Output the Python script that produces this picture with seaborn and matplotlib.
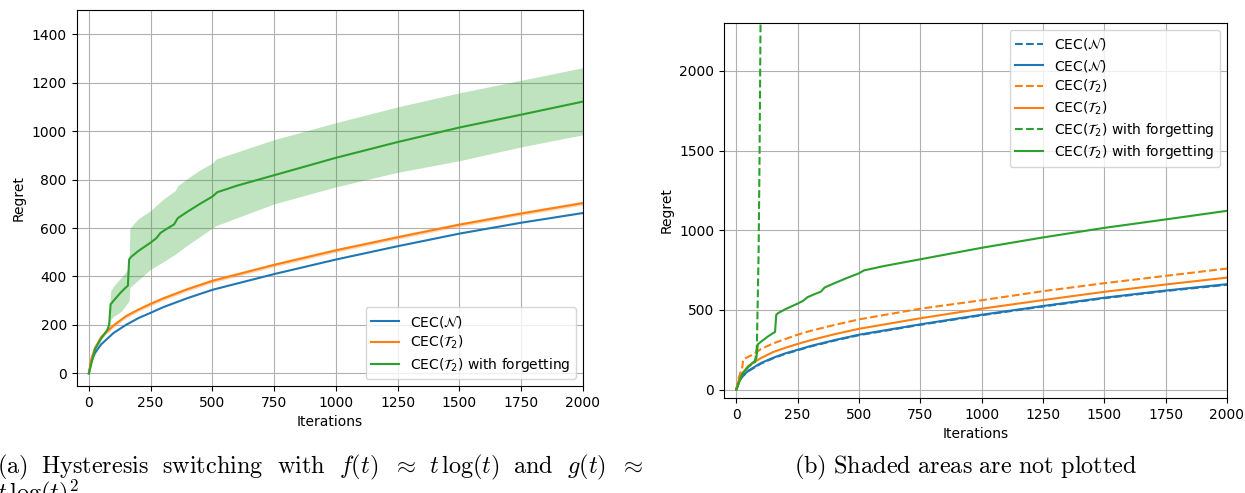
import numpy as np
import matplotlib
matplotlib.use("Agg")
import matplotlib.pyplot as plt
import seaborn as sns

# ---------------- data ----------------
t_base = [0, 10, 25, 50, 100, 150, 200, 250, 300, 400, 500, 750, 1000, 1250, 1500, 1750, 2000]
blue_N = [0, 50, 85, 120, 167, 200, 228, 250, 273, 311, 345, 410, 470, 525, 577, 622, 662]
blue_N_dash = [0, 48, 82, 117, 163, 197, 225, 247, 270, 308, 342, 407, 467, 522, 574, 619, 658]
orange_T2 = [0, 60, 105, 150, 198, 236, 263, 287, 309, 348, 382, 448, 508, 562, 614, 660, 703]
orange_lo = [0, 55, 99, 143, 190, 228, 255, 279, 301, 340, 374, 440, 500, 554, 606, 652, 695]
orange_hi = [0, 65, 111, 157, 206, 244, 271, 295, 317, 356, 390, 456, 516, 570, 622, 668, 711]

t_orange_dash = [0, 10, 20, 25, 28, 40, 60, 80, 100, 150, 200, 250, 300, 400, 500, 750, 1000, 1250, 1500, 1750, 2000]
orange_T2_dash = [0, 75, 120, 146, 188, 200, 215, 232, 255, 290, 318, 345, 368, 406, 441, 508, 561, 618, 668, 714, 760]

t_green = [0, 25, 50, 75, 82, 88, 100, 130, 150, 158, 163, 170, 200, 250, 273, 290, 320, 345, 360,
           400, 450, 500, 520, 600, 750, 1000, 1250, 1500, 1750, 2000]
green_forget = [0, 100, 145, 180, 200, 285, 300, 335, 355, 362, 470, 480, 505, 540, 558, 580, 600, 615, 641,
                668, 700, 730, 748, 775, 818, 890, 955, 1015, 1068, 1122]

t_green_band = [0, 50, 75, 82, 88, 100, 130, 155, 163, 166, 200, 250, 300, 350, 360, 400, 450, 500, 515,
                750, 1000, 1250, 1500, 1750, 2000]
green_hi = [0, 150, 185, 230, 340, 360, 395, 425, 440, 600, 638, 672, 718, 755, 775, 805, 840, 868, 885,
            965, 1035, 1100, 1158, 1210, 1262]
green_lo = [0, 140, 175, 185, 222, 235, 255, 288, 300, 355, 385, 430, 460, 492, 500, 530, 565, 600, 610,
            700, 770, 830, 878, 935, 985]

t_green_dash = [0, 25, 50, 77, 84, 91, 95, 99, 103]
green_forget_dash = [0, 100, 145, 175, 272, 858, 1485, 2322, 3000]

x_ticks = [0, 250, 500, 750, 1000, 1250, 1500, 1750, 2000]
lab_N = r"CEC($\mathcal{N}$)"
lab_T2 = r"CEC($\mathcal{T}_2$)"
lab_TF = r"CEC($\mathcal{T}_2$) with forgetting"

# ---------------- style ----------------
plt.rcParams["font.family"] = ["DejaVu Sans"]
plt.rcParams["mathtext.fontset"] = "dejavusans"
pal = sns.color_palette("tab10")
c_blue, c_orange, c_green = pal[0], pal[1], pal[2]

W, H = 1245, 493
fig = plt.figure(figsize=(W / 100, H / 100), dpi=100)

def box(l, r, t, b):
    return [l / W, 1 - b / H, (r - l) / W, (b - t) / H]

ax1 = fig.add_axes(box(76.5, 583, 10, 386))
ax2 = fig.add_axes(box(724, 1227, 23, 398))

for ax in (ax1, ax2):
    ax.grid(True, color="#b0b0b0", linewidth=0.8)
    ax.set_axisbelow(True)

# ---- left panel ----
ax1.fill_between(t_green_band, green_lo, green_hi, color=c_green, alpha=0.3, linewidth=0)
ax1.fill_between(t_base, orange_lo, orange_hi, color=c_orange, alpha=0.3, linewidth=0)
sns.lineplot(x=t_base, y=blue_N, ax=ax1, color=c_blue, label=lab_N, estimator=None, linewidth=1.5)
sns.lineplot(x=t_base, y=orange_T2, ax=ax1, color=c_orange, label=lab_T2, estimator=None, linewidth=1.5)
sns.lineplot(x=t_green, y=green_forget, ax=ax1, color=c_green, label=lab_TF, estimator=None, linewidth=1.5)
ax1.set_xlim(-50, 2000)
ax1.set_ylim(-52, 1500)
ax1.set_xticks(x_ticks)
ax1.set_yticks([0, 200, 400, 600, 800, 1000, 1200, 1400])
ax1.set_xlabel("Iterations")
ax1.set_ylabel("Regret")
ax1.legend(loc="lower right", fontsize=10, labelspacing=0.3)

# ---- right panel ----
sns.lineplot(x=t_base, y=blue_N_dash, ax=ax2, color=c_blue, label=lab_N, estimator=None, linewidth=1.5, linestyle="--")
sns.lineplot(x=t_base, y=blue_N, ax=ax2, color=c_blue, label=lab_N, estimator=None, linewidth=1.5)
sns.lineplot(x=t_orange_dash, y=orange_T2_dash, ax=ax2, color=c_orange, label=lab_T2, estimator=None, linewidth=1.5, linestyle="--")
sns.lineplot(x=t_base, y=orange_T2, ax=ax2, color=c_orange, label=lab_T2, estimator=None, linewidth=1.5)
sns.lineplot(x=t_green_dash, y=green_forget_dash, ax=ax2, color=c_green, label=lab_TF, estimator=None, linewidth=1.5, linestyle="--")
sns.lineplot(x=t_green, y=green_forget, ax=ax2, color=c_green, label=lab_TF, estimator=None, linewidth=1.5)
ax2.set_xlim(-50, 2000)
ax2.set_ylim(-52, 2300)
ax2.set_xticks(x_ticks)
ax2.set_yticks([0, 500, 1000, 1500, 2000])
ax2.set_xlabel("Iterations")
ax2.set_ylabel("Regret")
ax2.legend(loc="upper right", fontsize=10, labelspacing=0.3)

# ---- captions (justified first line of caption a) ----
cap_fs = 17.5
words = [r"$\mathrm{(a)}$", r"$\mathrm{Hysteresis}$", r"$\mathrm{switching}$", r"$\mathrm{with}$",
         r"$f(t)$", r"$\approx$", r"$t\,\log(t)$", r"$\mathrm{and}$", r"$g(t)$", r"$\approx$"]
x_start, x_end, base1 = -3, 643, 473
fig.canvas.draw()
renderer = fig.canvas.get_renderer()
widths = []
for w in words:
    tx = fig.text(0, 0, w, fontsize=cap_fs, math_fontfamily="cm")
    widths.append(tx.get_window_extent(renderer).width)
    tx.remove()
gap = (x_end - x_start - sum(widths)) / (len(words) - 1)
xpos = x_start
for w, wd in zip(words, widths):
    fig.text(xpos / W, 1 - base1 / H, w, fontsize=cap_fs, math_fontfamily="cm", va="baseline", ha="left")
    xpos += wd + gap
fig.text(x_start / W, 1 - (base1 + 27) / H, r"$t\,\log(t)^2$", fontsize=cap_fs, math_fontfamily="cm",
         va="baseline", ha="left")
fig.text(966 / W, 1 - base1 / H, r"$\mathrm{(b)\ Shaded\ areas\ are\ not\ plotted}$", fontsize=cap_fs,
         math_fontfamily="cm", va="baseline", ha="center")

fig.savefig("out.png", dpi=100)
